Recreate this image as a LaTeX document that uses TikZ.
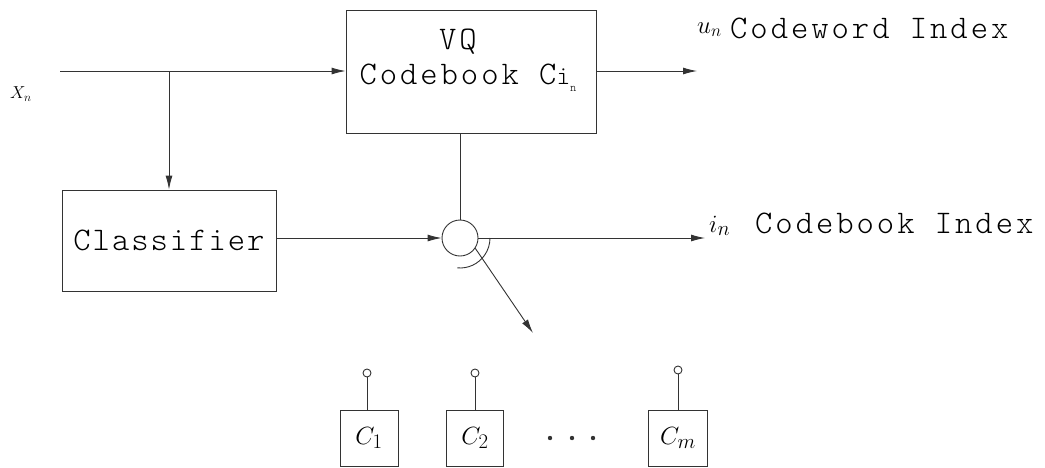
\documentclass[tikz,border=0pt]{standalone}
\usepackage{fontspec}
\newfontfamily\cmono{lmmonolt10-regular.otf}[LetterSpace=9]
\newfontfamily\cmonob{lmmonolt10-regular.otf}[LetterSpace=6]
\usetikzlibrary{arrows.meta}
\begin{document}
\begin{tikzpicture}[x=1pt,y=-1pt,
  line/.style={draw=black!80, line width=0.9pt},
  arr/.style={line, -{Latex[length=14pt,width=7pt]}},
  blk/.style={draw=black!80, line width=0.9pt, inner sep=0pt},
  pin/.style={circle, draw=black!80, line width=0.9pt, minimum size=8pt, inner sep=0pt},
  mono/.style={font=\cmono\fontsize{33}{36}\selectfont, inner sep=0pt},
  monob/.style={font=\cmonob\fontsize{33}{36}\selectfont, inner sep=0pt},
  mathlbl/.style={inner sep=0pt},
]
\useasboundingbox (0,0) rectangle (1045,467);
% blocks
\node[blk, minimum width=250pt, minimum height=123pt] (vq) at (471,71.5) {};
\node[mono] (vqt1) at (458,42) {VQ};
\node[mono] (vqt2) at (468,78) {Codebook C{\fontsize{26}{26}\selectfont i}\raisebox{-7pt}{\fontsize{12}{12}\selectfont n}};
\node[blk, monob, minimum width=214pt, minimum height=101pt] (cls) at (169,240.5) {Classifier};
\node[circle, draw=black!80, line width=0.9pt, minimum size=36pt, inner sep=0pt] (sw) at (460,238) {};
% coordinates
\coordinate (xin) at (60,71);
\coordinate (br) at (169,71);
\coordinate (uout) at (697,71);
\coordinate (iout) at (705,238);
\coordinate (dend) at (533,333);
% connectors
\draw[line] (xin) -- (br);
\draw[arr] (br) -- (vq.west |- br);
\draw[arr] (br) -- (cls.north);
\draw[arr] (vq.east |- br) -- (uout);
\draw[line] (sw.north |- vq.south) -- (sw.north);
\draw[arr] (cls.east |- sw.west) -- (sw.west);
\draw[arr] (sw.east) -- (iout);
\draw[line] ([shift={(95:30)}]sw.center) arc[start angle=95, end angle=0, radius=30];
\draw[arr] (sw.-34) -- (dend);
% labels
\node[mathlbl, anchor=west] (xl) at (10,94) {\fontsize{17}{17}\selectfont $X_n$};
\node[mathlbl, anchor=base west] (ul) at (697,33) {\fontsize{24}{24}\selectfont $u_n$};
\node[mono, anchor=base west] (ut) at (730,38) {Codeword Index};
\node[mathlbl, anchor=base west] (il) at (709,232) {\fontsize{28}{28}\selectfont $i_n$};
\node[mono, anchor=base west] (it) at (755,233) {Codebook Index};
% codebooks
\node[blk, minimum width=58pt, minimum height=56pt] (c1) at (369,438) {\fontsize{30}{30}\selectfont $C_1$};
\node[blk, minimum width=57pt, minimum height=56pt] (c2) at (475,438) {\fontsize{30}{30}\selectfont $C_2$};
\node[blk, minimum width=59pt, minimum height=56pt] (cm) at (678,438) {\fontsize{30}{30}\selectfont $C_m$};
\node[pin] (p1) at (367,373) {};
\node[pin] (p2) at (475,373) {};
\node[pin] (pm) at (678,370) {};
\draw[line] (p1.south) -- (p1.south |- c1.north);
\draw[line] (p2.south) -- (p2.south |- c2.north);
\draw[line] (pm.south) -- (pm.south |- cm.north);
\fill[black!80] (550,438) circle[radius=2.2] (572,438) circle[radius=2.2] (593,438) circle[radius=2.2];
\end{tikzpicture}
\end{document}
